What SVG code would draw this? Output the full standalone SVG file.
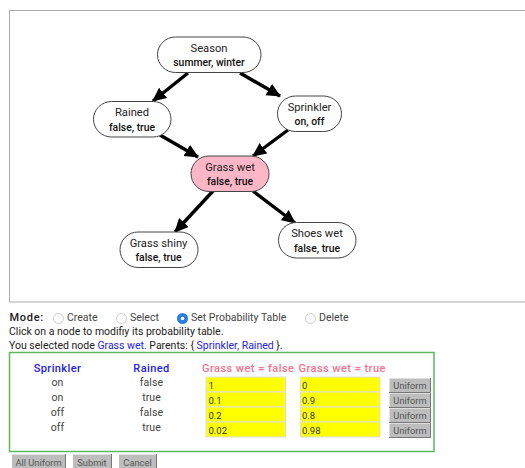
<svg xmlns="http://www.w3.org/2000/svg" width="525" height="468" viewBox="0 0 525 468">
<style>
text{font-family:Roboto,"Liberation Sans",sans-serif;fill:#222}
.node{fill:#fff;stroke:#444;stroke-width:1}
.nm{font-size:11.2px;text-anchor:middle}
.st{font-size:10.4px;font-weight:500;text-anchor:middle;fill:#111}
.edge{stroke:#000;stroke-width:3.4;fill:none;marker-end:url(#arr)}
.ui{font-size:10.5px}
.c{font-size:10.5px;text-anchor:middle;fill:#444;letter-spacing:.1px}
.h{font-size:11px;font-weight:500;text-anchor:middle;fill:#2222ee;letter-spacing:.4px}
.p{font-size:11px;font-weight:500;fill:#f8708a;letter-spacing:.45px}
.in{fill:#ffff00;stroke:#ddd;stroke-width:1}
.v{font-size:9.5px;fill:#333}
.btn{fill:#bdbdbd}
.bs{fill:none;stroke:#777;stroke-width:1}
.b{font-size:9.3px;text-anchor:middle;fill:#555}
.l{fill:#2222ee}
.r{fill:#fff;stroke:#ccc;stroke-width:1}
</style>
<defs><marker id="arr" markerUnits="userSpaceOnUse" markerWidth="15" markerHeight="14" refX="13" refY="6.500" orient="auto"><path d="M0 0L14 6.500L0 13z" fill="#000"/></marker></defs>
<path d="M525 10.500H9.500V302H525" fill="none" stroke="#aaa" stroke-width="1"/>
<g id="connectors">
<path class="edge" d="M188 73L153 101"/>
<path class="edge" d="M240 73L280 96"/>
<path class="edge" d="M160 135L198 157"/>
<path class="edge" d="M288 130L253 156"/>
<path class="edge" d="M213 191L175 232"/>
<path class="edge" d="M253 191L295 223"/>
</g>
<g id="season"><rect class="node" x="157.500" y="37" width="103.500" height="35.500" rx="18"/><text class="nm" x="209" y="51.500">Season</text><text class="st" x="209" y="66">summer, winter</text></g>
<g id="rained"><rect class="node" x="93.500" y="101.500" width="77.500" height="35.500" rx="18"/><text class="nm" x="132" y="116">Rained</text><text class="st" x="132" y="130.500">false, true</text></g>
<g id="sprinkler"><rect class="node" x="277.500" y="96" width="64" height="35.500" rx="18"/><text class="nm" x="309.500" y="111">Sprinkler</text><text class="st" x="309.500" y="125">on, off</text></g>
<g id="grasswet"><rect class="node" x="191" y="156" width="78" height="35.500" rx="18" style="fill:#ffb6c6"/><text class="nm" x="230" y="170.500">Grass wet</text><text class="st" x="230" y="184.500">false, true</text></g>
<g id="grassshiny"><rect class="node" x="120" y="232" width="78" height="35.500" rx="18"/><text class="nm" x="158.500" y="246.500">Grass shiny</text><text class="st" x="158.500" y="261">false, true</text></g>
<g id="shoeswet"><rect class="node" x="278.500" y="222.500" width="77.500" height="35.500" rx="18"/><text class="nm" x="317" y="237">Shoes wet</text><text class="st" x="317" y="251.500">false, true</text></g>
<text class="ui" x="9.500" y="321" style="font-size:11px;font-weight:500;letter-spacing:.7px">Mode:</text>
<circle class="r" cx="58.500" cy="318.500" r="5"/><text class="ui" x="67" y="321" style="fill:#444">Create</text>
<circle class="r" cx="121.500" cy="318.500" r="5"/><text class="ui" x="130" y="321" style="fill:#444">Select</text>
<circle cx="182.500" cy="318.500" r="5.500" fill="#2a7de1"/><circle cx="182.500" cy="318.500" r="1.800" fill="#fff"/><text class="ui" x="191" y="321" style="fill:#444">Set Probability Table</text>
<circle class="r" cx="310.500" cy="318.500" r="5"/><text class="ui" x="319" y="321" style="fill:#444">Delete</text>
<text class="ui" x="9" y="335">Click on a node to modifiy its probability table.</text>
<text class="ui" x="9" y="349">You selected node <tspan class="l">Grass wet.</tspan> Parents: { <tspan class="l">Sprinkler, Rained</tspan> }.</text>
<rect x="9.500" y="352.500" width="424.500" height="99" fill="#fff" stroke="#5cb85c" stroke-width="1.500"/>
<text class="h" x="57.500" y="371.500">Sprinkler</text><text class="h" x="151.500" y="371.500">Rained</text>
<text class="p" x="202" y="371.500">Grass wet = false</text><text class="p" x="298.500" y="371.500">Grass wet = true</text>
<g class="c-rows">
<text class="c" x="57.500" y="386">on</text><text class="c" x="151.500" y="386">false</text>
<text class="c" x="57.500" y="401">on</text><text class="c" x="151.500" y="401">true</text>
<text class="c" x="57.500" y="416">off</text><text class="c" x="151.500" y="416">false</text>
<text class="c" x="57.500" y="431">off</text><text class="c" x="151.500" y="431">true</text>
</g>
<rect class="in" x="206" y="377" width="79.500" height="15"/><rect class="in" x="300.500" y="377" width="79.500" height="15"/>
<rect class="in" x="206" y="392" width="79.500" height="15"/><rect class="in" x="300.500" y="392" width="79.500" height="15"/>
<rect class="in" x="206" y="407" width="79.500" height="15"/><rect class="in" x="300.500" y="407" width="79.500" height="15"/>
<rect class="in" x="206" y="422" width="79.500" height="15"/><rect class="in" x="300.500" y="422" width="79.500" height="15"/>
<text class="v" x="208.500" y="388.500">1</text><text class="v" x="302" y="388.500">0</text>
<text class="v" x="208.500" y="403.500">0.1</text><text class="v" x="302" y="403.500">0.9</text>
<text class="v" x="208.500" y="418.500">0.2</text><text class="v" x="302" y="418.500">0.8</text>
<text class="v" x="208.500" y="433.500">0.02</text><text class="v" x="302" y="433.500">0.98</text>
<g id="uniform">
<rect class="btn" x="389.500" y="378.500" width="41" height="14"/><path class="bs" d="M430.500 378V392.500H389"/><text class="b" x="410" y="389">Uniform</text>
<rect class="btn" x="389.500" y="393.500" width="41" height="14"/><path class="bs" d="M430.500 393V407.500H389"/><text class="b" x="410" y="404">Uniform</text>
<rect class="btn" x="389.500" y="408.500" width="41" height="14"/><path class="bs" d="M430.500 408V422.500H389"/><text class="b" x="410" y="419">Uniform</text>
<rect class="btn" x="389.500" y="423.500" width="41" height="14"/><path class="bs" d="M430.500 423V437.500H389"/><text class="b" x="410" y="434">Uniform</text>
</g>
<g id="actions">
<rect class="btn" x="12" y="454.500" width="53" height="14"/><path class="bs" d="M65.500 454V468"/><text class="b" x="38.500" y="465.500">All Uniform</text>
<rect class="btn" x="73" y="454.500" width="38" height="14"/><path class="bs" d="M111.500 454V468"/><text class="b" x="92" y="465.500">Submit</text>
<rect class="btn" x="119" y="454.500" width="37" height="14"/><path class="bs" d="M156.500 454V468"/><text class="b" x="137.500" y="465.500">Cancel</text>
</g>
</svg>
